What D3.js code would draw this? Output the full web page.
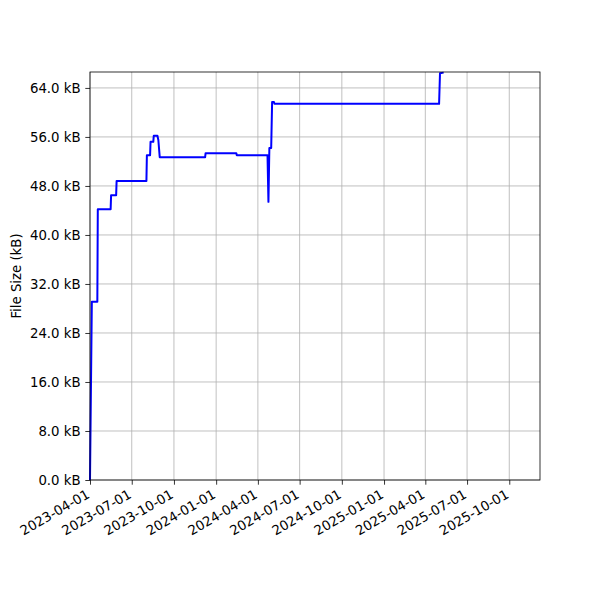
<!DOCTYPE html>
<html>
<head>
<meta charset="utf-8">
<script src="https://cdn.jsdelivr.net/npm/d3@7"></script>
<style>
  html, body { margin: 0; padding: 0; background: #fff; }
  svg text { font-family: "DejaVu Sans", sans-serif; }
</style>
</head>
<body>
<svg id="chart" width="600" height="600"></svg>
<script>
// Data: commit dates and file size (kB)
const dates = [
  "2023-04-01","2023-04-05","2023-04-17","2023-04-18","2023-05-16","2023-05-17",
  "2023-05-28","2023-05-29","2023-08-02","2023-08-03","2023-08-10","2023-08-11",
  "2023-08-17","2023-08-18","2023-08-26","2023-08-28","2023-08-31","2023-12-08",
  "2023-12-09","2024-02-14","2024-02-15","2024-04-22","2024-04-24","2024-04-26",
  "2024-04-30","2024-05-02","2024-05-06","2024-05-07","2025-05-01","2025-05-03",
  "2025-05-11"
];
const sizes = [
  0.0, 29.1, 29.1, 44.2, 44.2, 46.5,
  46.5, 48.8, 48.8, 53.0, 53.0, 55.2,
  55.2, 56.2, 56.2, 55.5, 52.7, 52.7,
  53.35, 53.35, 53.0, 53.0, 45.4, 54.2,
  54.2, 61.7, 61.7, 61.4, 61.4, 66.4,
  66.5
];
const xTickLabels = ["2023-04-01","2023-07-01","2023-10-01","2024-01-01","2024-04-01",
  "2024-07-01","2024-10-01","2025-01-01","2025-04-01","2025-07-01","2025-10-01"];
const yTicks = [0, 8, 16, 24, 32, 40, 48, 56, 64];
const xDomain = ["2023-04-01", "2025-12-07"];
const yDomain = [0, 66.6];

const parse = d3.utcParse("%Y-%m-%d");
const data = dates.map((d, i) => ({ date: parse(d), value: sizes[i] }));

const margin = { left: 90, right: 60, top: 72, bottom: 120 };
const W = 600, H = 600;
const svg = d3.select("#chart");

const x = d3.scaleUtc().domain(xDomain.map(parse)).range([margin.left, W - margin.right]);
const y = d3.scaleLinear().domain(yDomain).range([H - margin.bottom, margin.top]);

const g = svg.append("g");

// grid
g.append("g").selectAll("line").data(xTickLabels).join("line")
  .attr("x1", d => x(parse(d))).attr("x2", d => x(parse(d)))
  .attr("y1", y.range()[0]).attr("y2", y.range()[1])
  .attr("stroke", "#b0b0b0").attr("stroke-width", 0.8);
g.append("g").selectAll("line").data(yTicks).join("line")
  .attr("x1", x.range()[0]).attr("x2", x.range()[1])
  .attr("y1", d => y(d)).attr("y2", d => y(d))
  .attr("stroke", "#b0b0b0").attr("stroke-width", 0.8);

// line
const line = d3.line().x(d => x(d.date)).y(d => y(d.value));
g.append("path").datum(data)
  .attr("fill", "none").attr("stroke", "#0000ff").attr("stroke-width", 2)
  .attr("stroke-linejoin", "round")
  .attr("d", line);

// axes
const xAxis = d3.axisBottom(x)
  .tickValues(xTickLabels.map(parse))
  .tickFormat(d3.utcFormat("%Y-%m-%d"))
  .tickSize(4.7).tickPadding(3);
const gx = svg.append("g").attr("transform", `translate(0,${y.range()[0]})`).call(xAxis);
gx.select(".domain").remove();
gx.selectAll("line").attr("stroke", "#000").attr("stroke-width", 0.8);
gx.selectAll("text")
  .attr("font-size", "13.3px").attr("fill", "#000")
  .attr("text-anchor", "end")
  .attr("x", 0).attr("y", 0).attr("dy", 0)
  .attr("transform", "translate(0,17) rotate(-30)");

const yAxis = d3.axisLeft(y)
  .tickValues(yTicks)
  .tickFormat(d => d.toFixed(1) + " kB")
  .tickSize(4.7).tickPadding(4.7);
const gy = svg.append("g").attr("transform", `translate(${x.range()[0]},0)`).call(yAxis);
gy.select(".domain").remove();
gy.selectAll("line").attr("stroke", "#000").attr("stroke-width", 0.8);
gy.selectAll("text").attr("font-size", "13.3px").attr("fill", "#000");

// frame
svg.append("rect")
  .attr("x", x.range()[0]).attr("y", y.range()[1])
  .attr("width", x.range()[1] - x.range()[0])
  .attr("height", y.range()[0] - y.range()[1])
  .attr("fill", "none").attr("stroke", "#000").attr("stroke-width", 0.8);

// y label
svg.append("text")
  .attr("transform", `translate(21,${(y.range()[0] + y.range()[1]) / 2}) rotate(-90)`)
  .attr("text-anchor", "middle")
  .attr("font-size", "13.3px")
  .text("File Size (kB)");
</script>
</body>
</html>
